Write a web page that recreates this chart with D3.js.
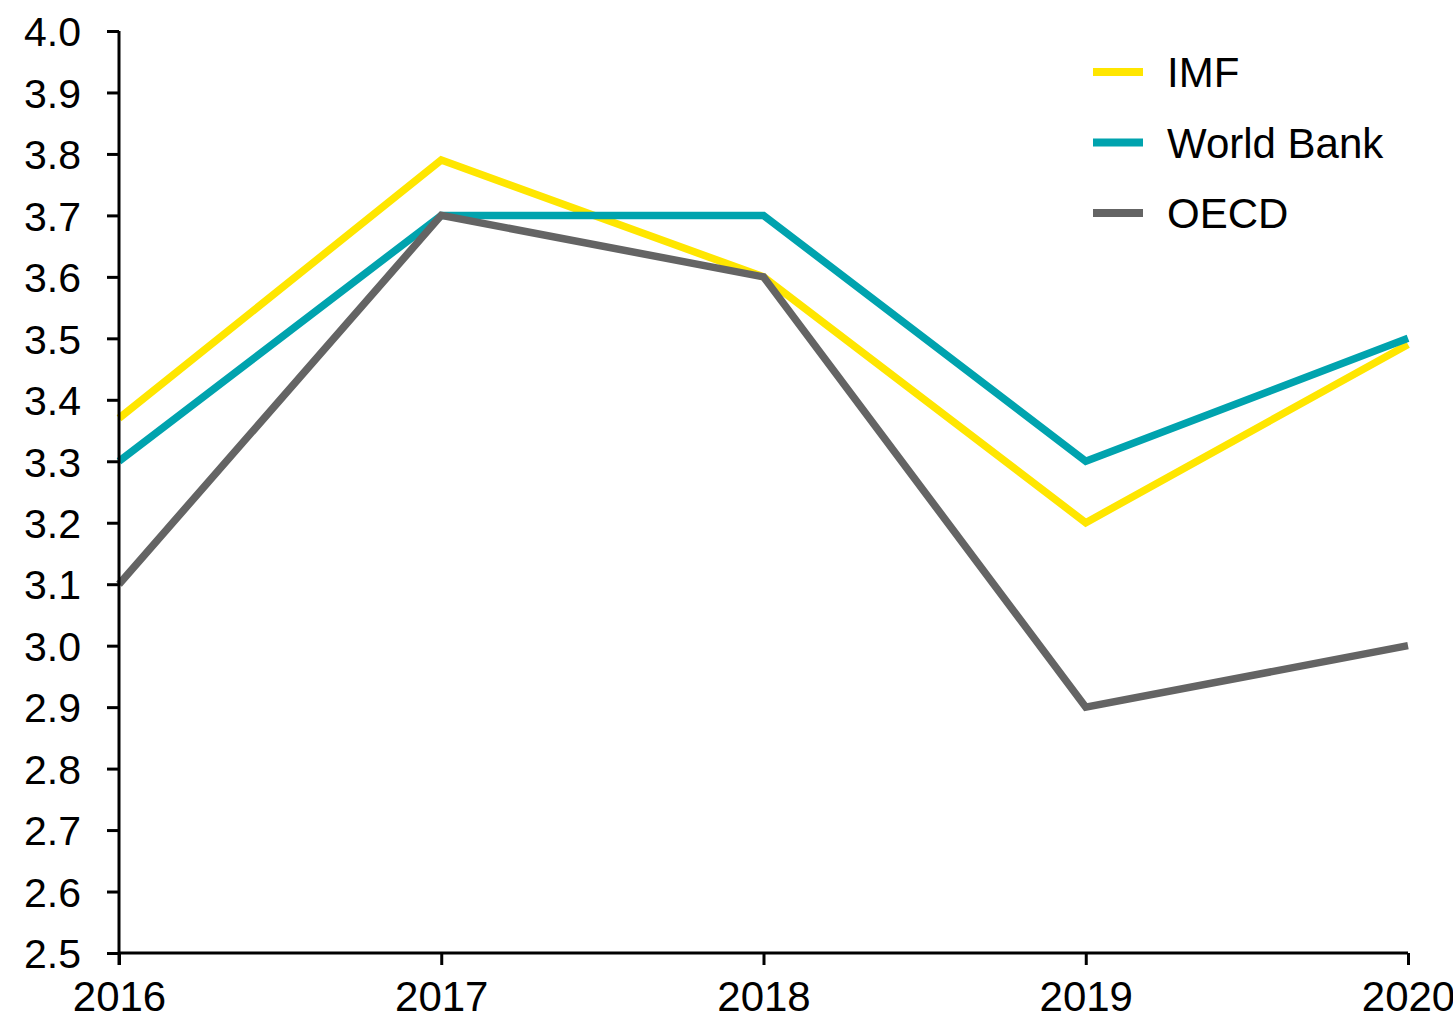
<!DOCTYPE html>
<html><head><meta charset="utf-8">
<script src="https://cdn.jsdelivr.net/npm/d3@7/dist/d3.min.js"></script>
<style>html,body{margin:0;padding:0;background:#fff;overflow:hidden}</style>
</head><body>
<svg id="chart" width="1453" height="1022"></svg>
<script>
const years = [2016, 2017, 2018, 2019, 2020];
const imf = [3.37, 3.79, 3.6, 3.2, 3.49];
const worldBank = [3.3, 3.7, 3.7, 3.3, 3.5];
const oecd = [3.1, 3.7, 3.6, 2.9, 3.0];
const seriesNames = ["IMF", "World Bank", "OECD"];
const seriesColors = ["#FFE600", "#00A3AE", "#646464"];
const yTicks = [2.5, 2.6, 2.7, 2.8, 2.9, 3.0, 3.1, 3.2, 3.3, 3.4, 3.5, 3.6, 3.7, 3.8, 3.9, 4.0];

const series = [imf, worldBank, oecd];
const svg = d3.select("#chart");
const font = "'Liberation Sans', Arial, sans-serif";
const x = d3.scaleLinear().domain([2016, 2020]).range([119, 1408]);
const y = d3.scaleLinear().domain([2.5, 4.0]).range([953, 31]);

const line = d3.line().x((d, i) => x(years[i])).y(d => y(d));
[0, 1, 2].forEach(k => {
  svg.append("path").datum(series[k]).attr("d", line)
    .attr("fill", "none").attr("stroke", seriesColors[k])
    .attr("stroke-width", 7.5).attr("stroke-linejoin", "miter").attr("stroke-miterlimit", 2);
});

// y axis
const yAxis = svg.append("g").attr("transform", `translate(${x(2016)},0)`)
  .call(d3.axisLeft(y).tickValues(yTicks).tickFormat(d3.format(".1f")).tickSize(12).tickPadding(26));
yAxis.select(".domain").attr("stroke", "#000").attr("stroke-width", 3).attr("d", `M0,${y(4.0)}V${y(2.5)+12}`);
yAxis.selectAll(".tick line").attr("stroke", "#000").attr("stroke-width", 3);
yAxis.selectAll("text").attr("font-family", font).attr("font-size", 41).attr("fill", "#000").attr("dy", "0.36em");

// x axis
const xAxis = svg.append("g").attr("transform", `translate(0,${y(2.5)})`)
  .call(d3.axisBottom(x).tickValues(years).tickFormat(d3.format("d")).tickSize(12).tickPadding(16));
xAxis.select(".domain").attr("stroke", "#000").attr("stroke-width", 3).attr("d", `M${x(2016)},0H${x(2020)}`);
xAxis.selectAll(".tick line").attr("stroke", "#000").attr("stroke-width", 3);
xAxis.selectAll("text").attr("font-family", font).attr("font-size", 42).attr("fill", "#000");

// legend
const lg = svg.append("g");
seriesNames.forEach((name, i) => {
  const yy = 72 + i * 70.5;
  lg.append("line").attr("x1", 1093).attr("x2", 1143).attr("y1", yy).attr("y2", yy)
    .attr("stroke", seriesColors[i]).attr("stroke-width", 8);
  lg.append("text").attr("x", 1167).attr("y", yy).attr("dy", "0.36em")
    .attr("font-family", font).attr("font-size", 42).attr("fill", "#000").text(name);
});
</script>
</body></html>
